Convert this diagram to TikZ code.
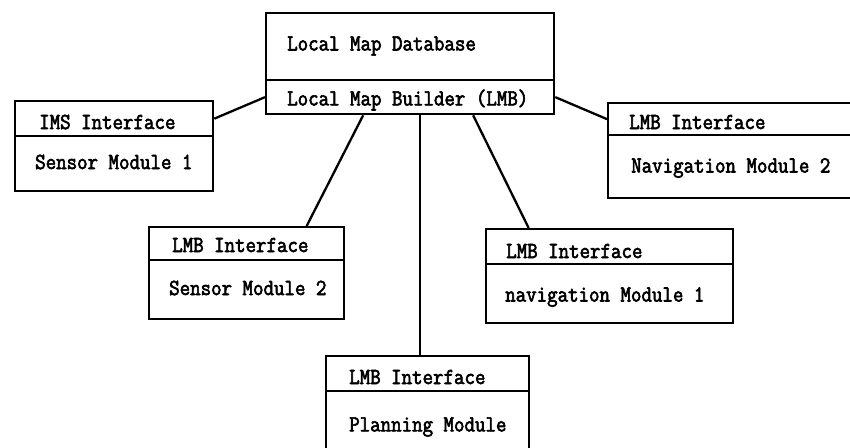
\documentclass[tikz,border=0pt]{standalone}
\usepackage{fontspec}
\newfontfamily\typefont[FakeStretch=0.885, FakeBold=2.6]{Latin Modern Mono}
\begin{document}
\begin{tikzpicture}[x=1pt,y=-1pt,
  part/.style={draw, line width=2.3pt, inner sep=0pt, anchor=north west},
  txt/.style={anchor=west, inner sep=0pt, font=\typefont\fontsize{23}{26}\selectfont},
  link/.style={line width=2.3pt}]
\useasboundingbox (0,0) rectangle (850,447);
\fill[white] (0,0) rectangle (850,447);

% central database with its builder
\node[part, minimum width=288pt, minimum height=67pt] (db)  at (265,12) {};
\node[part, minimum width=288pt, minimum height=34pt] (lmb) at (265,79) {};
\node[txt] (dbt)  at (287,46)  {Local Map Database};
\node[txt] (lmbt) at (287,100) {Local Map Builder (LMB)};

% sensor module 1
\node[part, minimum width=198pt, minimum height=35pt] (imsh) at (14,100) {};
\node[part, minimum width=198pt, minimum height=55pt] (imsb) at (14,135) {};
\node[txt] (imsht) at (39,122) {IMS Interface};
\node[txt] (imsbt) at (35,162) {Sensor Module 1};

% navigation module 2
\node[part, minimum width=260pt, minimum height=32pt] (nvbh) at (607,102) {};
\node[part, minimum width=260pt, minimum height=63pt] (nvbb) at (607,134) {};
\node[txt] (nvbht) at (629,122) {LMB Interface};
\node[txt] (nvbbt) at (631,168) {Navigation Module 2};

% sensor module 2
\node[part, minimum width=195pt, minimum height=33pt] (s2h) at (148,226) {};
\node[part, minimum width=195pt, minimum height=59pt] (s2b) at (148,259) {};
\node[txt] (s2ht) at (172,245) {LMB Interface};
\node[txt] (s2bt) at (169,288) {Sensor Module 2};

% navigation module 1
\node[part, minimum width=247pt, minimum height=35pt] (nvah) at (485,228) {};
\node[part, minimum width=247pt, minimum height=59pt] (nvab) at (485,263) {};
\node[txt] (nvaht) at (506,251) {LMB Interface};
\node[txt] (nvabt) at (505,297) {navigation Module 1};

% planning module
\node[part, minimum width=203pt, minimum height=35pt] (plh) at (325,355) {};
\node[part, minimum width=203pt, minimum height=70pt] (plb) at (325,390) {};
\node[txt] (plht) at (349,377) {LMB Interface};
\node[txt] (plbt) at (349,427) {Planning Module};

% links to the builder
\draw[link] (imsh.east) -- (lmb.west);
\draw[link] (lmb.east) -- (nvbh.west);
\draw[link] ([xshift=-47pt]lmb.south) -- ([xshift=60pt]s2h.north);
\draw[link] ([xshift=10pt]lmb.south) -- ([xshift=10pt]lmb.south |- plh.north);
\draw[link] ([xshift=63pt]lmb.south) -- ([xshift=-81pt]nvah.north);
\end{tikzpicture}
\end{document}
